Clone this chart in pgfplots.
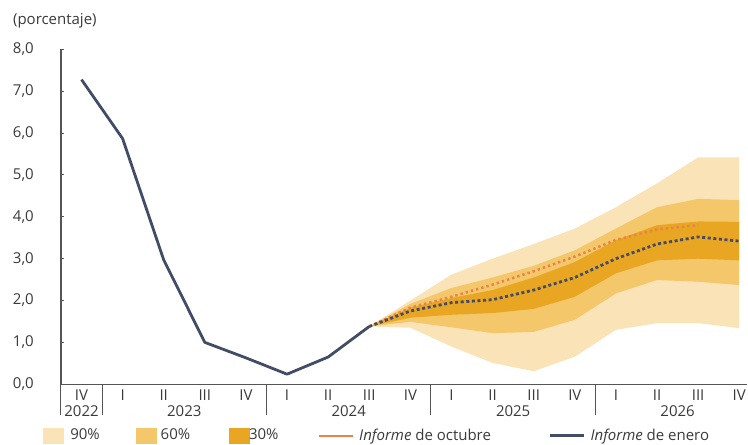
\documentclass[border=0pt]{standalone}
\usepackage{fontspec}
\setmainfont{Open Sans}
\usepackage{pgfplots}
\pgfplotsset{compat=1.18}
\definecolor{band90}{HTML}{FAE3B6}
\definecolor{band60}{HTML}{F4C76B}
\definecolor{band30}{HTML}{E8A623}
\definecolor{enero}{HTML}{434C66}
\definecolor{octubre}{HTML}{E8834A}
\definecolor{txt}{HTML}{3A3A3A}
\definecolor{axc}{HTML}{555555}
\begin{document}
\fontsize{15pt}{17pt}\selectfont
\begin{tikzpicture}
\begin{axis}[
  scale only axis, width=687pt, height=335pt,
  xmin=-0.5, xmax=16.2, ymin=0, ymax=8,
  clip=false,
  axis lines*=left,
  axis line style={axc, line width=1.1pt},
  every tick/.style={axc, line width=1pt},
  tick align=outside,
  major tick length=3pt,
  ytick={0,1,...,8},
  ytick style={xshift=3pt},
  /pgf/number format/fixed,
  /pgf/number format/fixed zerofill,
  /pgf/number format/precision=1,
  /pgf/number format/use comma,
  /pgf/number format/assume math mode=true,
  yticklabel style={text=txt, inner sep=0pt, xshift=-24pt},
  xtick={0,...,16},
  xticklabels={IV,I,II,III,IV,I,II,III,IV,I,II,III,IV,I,II,III,IV},
  xtick style={draw=none},
  xticklabel style={text=txt, anchor=base, inner sep=0pt, yshift=-13pt},
  minor xtick={1.5,2.5,3.5,5.5,6.5,7.5,9.5,10.5,11.5,13.5,14.5,15.5},
  minor tick length=11pt,
  minor x tick style={yshift=3pt},
  extra x ticks={-0.5,0.5,4.5,8.5,12.5},
  extra x tick labels={},
  extra x tick style={major tick length=31pt, xtick style={draw=axc}},
  legend columns=5,
  legend cell align=left,
  legend style={at={(axis description cs:-0.0262,-0.1537)}, anchor=west,
    draw=none, fill=none, inner sep=0pt, outer sep=0pt,
    nodes={inner sep=0pt, text=txt}, /tikz/column sep=0pt},
]
% page frame (invisible)
\path (axis description cs:-0.08879,-0.18060) rectangle (axis description cs:1.0,1.14776);
% 90% band
\addplot[fill=band90, draw=none, forget plot] coordinates {
 (7,1.38) (8,2.0) (9,2.62) (10,3.0) (11,3.35) (12,3.72) (13,4.23) (14,4.8) (15,5.42) (16,5.42)
 (16,1.34) (15,1.46) (14,1.46) (13,1.3) (12,0.66) (11,0.31) (10,0.51) (9,0.9) (8,1.35) (7,1.38)} --cycle;
% 60% band
\addplot[fill=band60, draw=none, forget plot] coordinates {
 (7,1.38) (8,1.92) (9,2.3) (10,2.55) (11,2.83) (12,3.2) (13,3.72) (14,4.23) (15,4.43) (16,4.4)
 (16,2.37) (15,2.45) (14,2.49) (13,2.17) (12,1.54) (11,1.25) (10,1.22) (9,1.36) (8,1.49) (7,1.38)} --cycle;
% 30% band
\addplot[fill=band30, draw=none, forget plot] coordinates {
 (7,1.38) (8,1.83) (9,2.06) (10,2.25) (11,2.55) (12,2.92) (13,3.44) (14,3.8) (15,3.89) (16,3.88)
 (16,2.96) (15,3.0) (14,2.96) (13,2.65) (12,2.09) (11,1.8) (10,1.7) (9,1.66) (8,1.59) (7,1.38)} --cycle;
% historical
\addplot[enero, line width=2.8pt, line join=round, forget plot] coordinates {
 (0,7.28) (1,5.87) (2,2.97) (3,1.0) (4,0.63) (5,0.24) (6,0.65) (7,1.38)};
% octubre forecast
\addplot[octubre, line width=2.5pt, dash pattern=on 2.4pt off 3pt, forget plot] coordinates {
 (7,1.38) (8,1.83) (9,2.09) (10,2.38) (11,2.7) (12,3.05) (13,3.45) (14,3.7) (15,3.8)};
% enero forecast
\addplot[enero, line width=2.8pt, dash pattern=on 3pt off 2.6pt, forget plot] coordinates {
 (7,1.38) (8,1.75) (9,1.95) (10,2.02) (11,2.25) (12,2.55) (13,3.0) (14,3.35) (15,3.52) (16,3.42)};
% legend
\addlegendimage{legend image code/.code={\fill[band90] (0pt,-7.5pt) rectangle (20pt,7.5pt); \path (27pt,0pt);}}
\addlegendentry{\makebox[66pt][l]{90\%}}
\addlegendimage{legend image code/.code={\fill[band60] (0pt,-7.5pt) rectangle (20pt,7.5pt); \path (24pt,0pt);}}
\addlegendentry{\makebox[68pt][l]{60\%}}
\addlegendimage{legend image code/.code={\fill[band30] (0pt,-7.5pt) rectangle (20pt,7.5pt); \path (20pt,0pt);}}
\addlegendentry{\makebox[69pt][l]{30\%}}
\addlegendimage{legend image code/.code={\draw[octubre, line width=2.2pt] (0pt,0pt) -- (34pt,0pt); \path (40pt,0pt);}}
\addlegendentry{\makebox[190pt][l]{\textit{Informe} de octubre}}
\addlegendimage{legend image code/.code={\draw[enero, line width=2.6pt] (0pt,0pt) -- (34pt,0pt); \path (40pt,0pt);}}
\addlegendentry{\textit{Informe} de enero}
% year labels
\node[anchor=base, text=txt, inner sep=0pt] at (axis cs:0,0) [yshift=-32.5pt] {2022};
\node[anchor=base, text=txt, inner sep=0pt] at (axis cs:2.5,0) [yshift=-32.5pt] {2023};
\node[anchor=base, text=txt, inner sep=0pt] at (axis cs:6.5,0) [yshift=-32.5pt] {2024};
\node[anchor=base, text=txt, inner sep=0pt] at (axis cs:10.5,0) [yshift=-32.5pt] {2025};
\node[anchor=base, text=txt, inner sep=0pt] at (axis cs:14.5,0) [yshift=-32.5pt] {2026};
\node[anchor=north west, text=txt, inner sep=0pt] at (axis description cs:-0.07,1.107) {(porcentaje)};
\end{axis}
\end{tikzpicture}
\end{document}
